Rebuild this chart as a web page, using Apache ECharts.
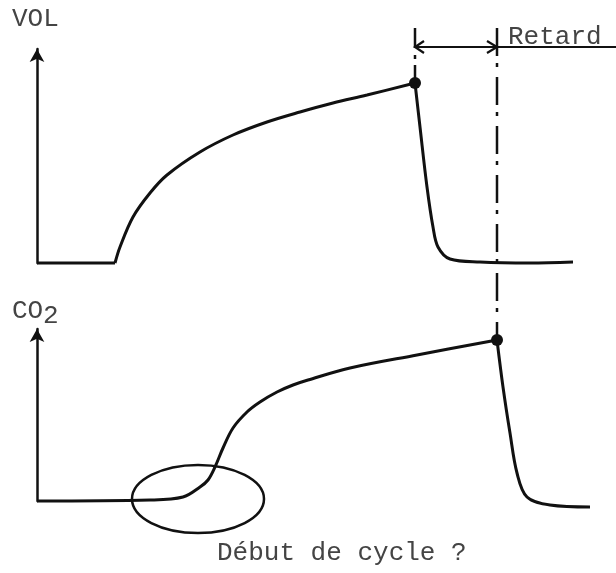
<!DOCTYPE html>
<html>
<head>
<meta charset="utf-8">
<script src="https://cdn.jsdelivr.net/npm/echarts@6/dist/echarts.min.js"></script>
<style>
  html, body { margin: 0; background: #fff; }
  #main { width: 616px; height: 573px; }
</style>
</head>
<body>
<div id="main"></div>
<script>
var volBase = [[0, 0], [19.5, 0]];
var volRise = [[19.5, 0], [20.75, 8], [24, 23], [28.25, 35], [32.5, 44], [40.75, 55.5], [49, 64],
               [57.5, 70.5], [65.75, 75.5], [74, 80], [82.5, 84], [94.5, 90]];
var volFall = [[94.5, 90], [95.75, 68], [97.5, 38], [99, 18], [100.25, 8], [103.25, 2],
               [110.75, 0.5], [123.25, 0], [134, 0.5]];
var co2Rise = [[0, 0], [28.25, 0.5], [36.5, 2], [40.75, 7], [42.75, 10.5], [44.5, 17], [46.5, 26.5],
               [49, 36.5], [52.5, 44.5], [55.75, 49.5], [60, 54.5], [64, 58], [67.75, 60.5],
               [78.25, 66.5], [95, 73], [115, 80.5]];
var co2Fall = [[115, 80.5], [116.5, 57], [118.25, 34], [120, 14], [122.5, 2], [128.25, -2], [138.25, -3]];

// repères : retard, ligne mixte, ellipse "début de cycle"
var volPeak = volRise[volRise.length - 1];
var co2Peak = co2Rise[co2Rise.length - 1];
var lagV = 108;        // hauteur de la flèche "Retard" (échelle VOL)
var markTopV = 117.5;  // haut des traits mixtes (échelle VOL)
var markTopCo2 = 236.5; // haut du trait mixte (échelle CO2)
var lineEndT = 144.75;
var cycleStart = { t: 40.25, v: 1, rt: 16.5, rv: 17 };

var ink = '#111';
var myChart = echarts.init(document.getElementById('main'));

function yAx(gridIndex, max) {
  return {
    type: 'value', gridIndex: gridIndex, min: 0, max: max,
    axisLine: { show: true, symbol: ['none', 'arrow'], symbolSize: [11, 13],
                lineStyle: { color: ink, width: 2.5 } },
    axisTick: { show: false }, axisLabel: { show: false }, splitLine: { show: false }
  };
}
function xAx(gridIndex) {
  return { type: 'value', gridIndex: gridIndex, min: 0, max: 140, show: false };
}
function curve(data, xi, smooth) {
  return {
    type: 'line', xAxisIndex: xi, yAxisIndex: xi, data: data, showSymbol: false,
    smooth: smooth, clip: false, silent: true,
    lineStyle: { color: ink, width: 3 }
  };
}
var solid = { stroke: ink, lineWidth: 2.2, fill: null };
var dashed = { stroke: ink, lineWidth: 2.5, fill: null, lineDash: [28, 7, 4, 10] };

function renderLag(params, api) {
  var top = api.coord([volPeak[0], markTopV]);
  var vp = api.coord(volPeak);
  var a0 = api.coord([volPeak[0], lagV]);
  var a1 = api.coord([co2Peak[0], lagV]);
  var a2 = api.coord([lineEndT, lagV]);
  return { type: 'group', children: [
    { type: 'line', shape: { x1: top[0], y1: top[1], x2: vp[0], y2: vp[1] },
      style: { stroke: ink, lineWidth: 2.5, lineDash: [20, 7, 4, 6] } },
    { type: 'line', shape: { x1: a0[0], y1: a0[1], x2: a2[0], y2: a2[1] }, style: solid },
    { type: 'polyline', shape: { points: [[a0[0] + 9, a0[1] - 6], [a0[0], a0[1]], [a0[0] + 9, a0[1] + 6]] }, style: solid },
    { type: 'polyline', shape: { points: [[a1[0] - 10, a1[1] - 6], [a1[0], a1[1]], [a1[0] - 10, a1[1] + 6]] }, style: solid }
  ] };
}
function renderCycle(params, api) {
  var top = api.coord([co2Peak[0], markTopCo2]);
  var cp = api.coord(co2Peak);
  var c = api.coord([cycleStart.t, cycleStart.v]);
  var e = api.coord([cycleStart.t + cycleStart.rt, cycleStart.v + cycleStart.rv]);
  return { type: 'group', children: [
    { type: 'line', shape: { x1: top[0], y1: top[1], x2: cp[0], y2: cp[1] }, style: dashed },
    { type: 'ellipse', shape: { cx: c[0], cy: c[1], rx: e[0] - c[0], ry: c[1] - e[1] },
      style: { stroke: ink, lineWidth: 2.5, fill: null } }
  ] };
}

var font = '26px "Liberation Mono", "DejaVu Sans Mono", monospace';
function label(text, x, y) {
  return { type: 'text', x: x, y: y, silent: true,
           style: { text: text, font: font, fill: '#444', verticalAlign: 'middle' } };
}

var option = {
  backgroundColor: '#fff',
  animation: false,
  grid: [
    { left: 37, top: 49, width: 560, height: 214 },
    { left: 37, top: 329, width: 560, height: 172 }
  ],
  xAxis: [xAx(0), xAx(1)],
  yAxis: [yAx(0, 107), yAx(1, 86)],
  graphic: [
    label('VOL', 12, 19),
    label('Retard', 508, 37),
    label('CO', 12, 311),
    label('2', 43, 316),
    label('Début de cycle ?', 217, 553)
  ],
  series: [
    curve(volBase, 0, false),
    curve(volRise, 0, 0.35),
    curve(volFall, 0, 0.35),
    curve(co2Rise, 1, 0.35),
    curve(co2Fall, 1, 0.35),
    { type: 'scatter', xAxisIndex: 0, yAxisIndex: 0, data: [volPeak], symbolSize: 12,
      itemStyle: { color: ink, opacity: 1 }, silent: true },
    { type: 'scatter', xAxisIndex: 1, yAxisIndex: 1, data: [co2Peak], symbolSize: 12,
      itemStyle: { color: ink, opacity: 1 }, silent: true },
    { type: 'custom', xAxisIndex: 0, yAxisIndex: 0, data: [volPeak], renderItem: renderLag, silent: true },
    { type: 'custom', xAxisIndex: 1, yAxisIndex: 1, data: [co2Peak], renderItem: renderCycle, silent: true }
  ]
};
myChart.setOption(option);
</script>
</body>
</html>
